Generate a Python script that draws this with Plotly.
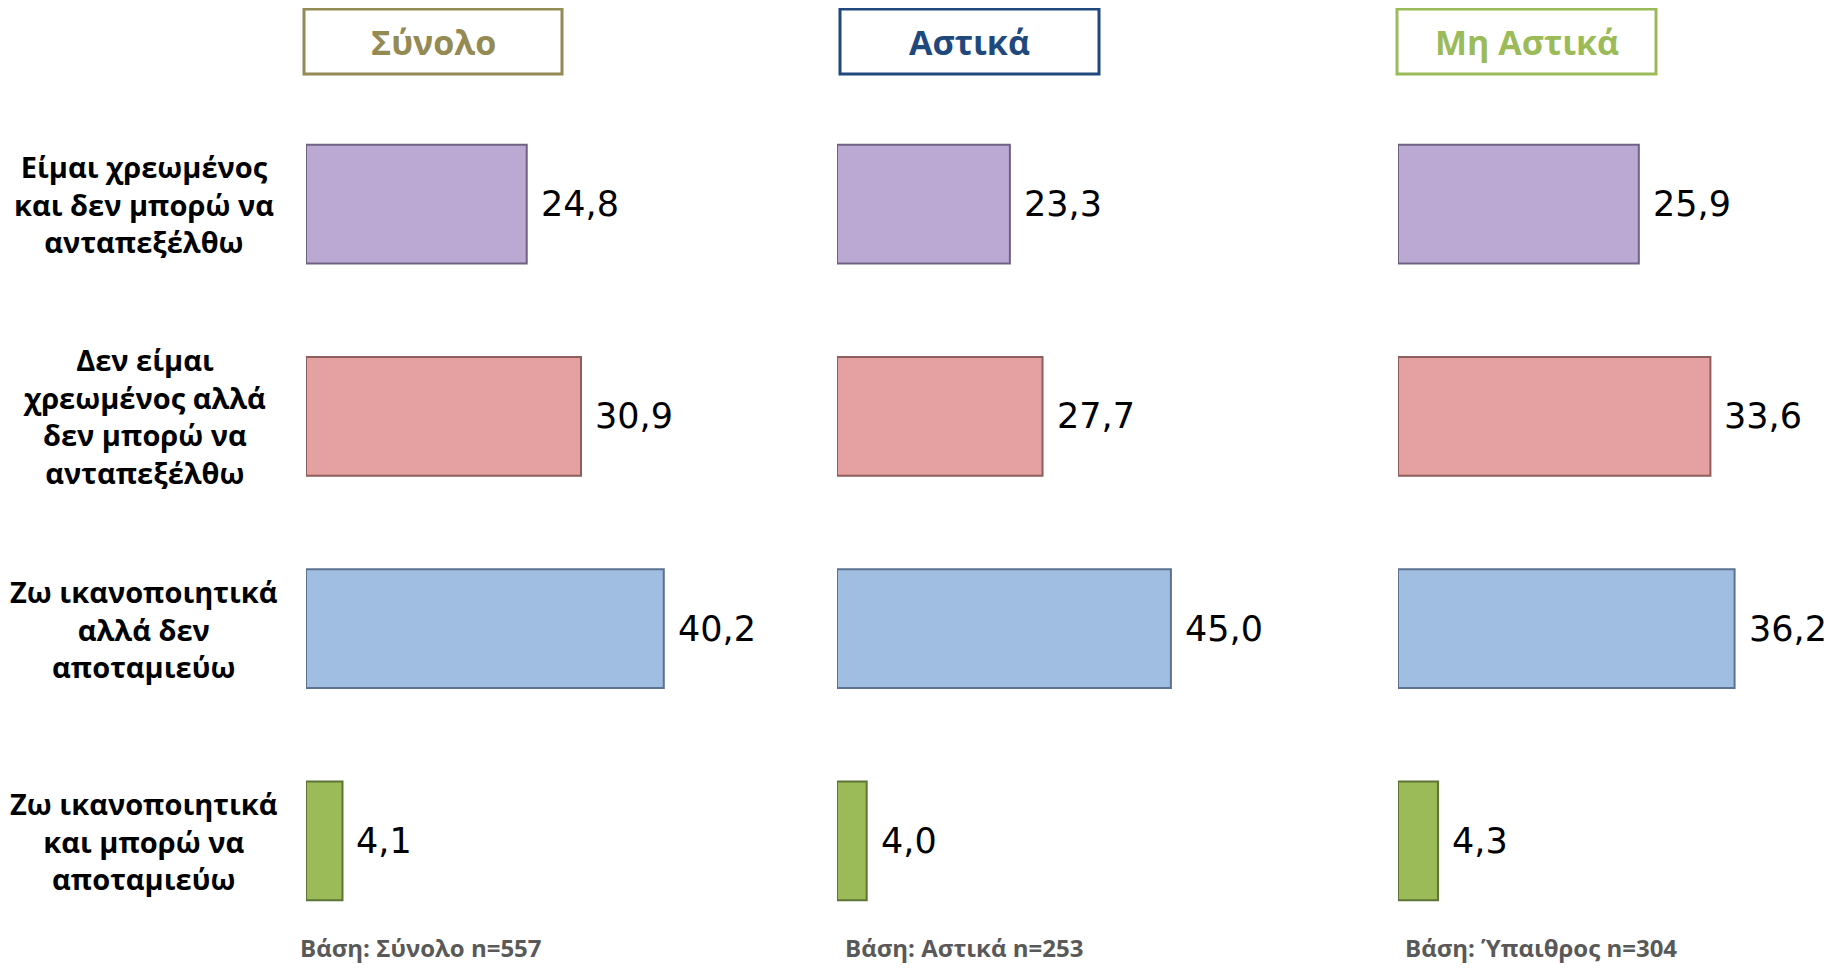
import plotly.graph_objects as go

# data
categories = [
    "Είμαι χρεωμένος<br>και δεν μπορώ να<br>ανταπεξέλθω",
    "Δεν είμαι<br>χρεωμένος αλλά<br>δεν μπορώ να<br>ανταπεξέλθω",
    "Ζω ικανοποιητικά<br>αλλά δεν<br>αποταμιεύω",
    "Ζω ικανοποιητικά<br>και μπορώ να<br>αποταμιεύω",
]
panel_titles = ["Σύνολο", "Αστικά", "Μη Αστικά"]
base_notes = ["Βάση: Σύνολο n=557", "Βάση: Αστικά n=253", "Βάση: Ύπαιθρος n=304"]
total = [24.8, 30.9, 40.2, 4.1]
urban = [23.3, 27.7, 45.0, 4.0]
rural = [25.9, 33.6, 36.2, 4.3]

# the page has an 8px body margin, so the figure is a bit smaller than the window
OFF = 8
W, H = 1845 - 2 * OFF, 974 - 2 * OFF


def px(x):
    return (x - OFF) / W


def py(y):
    return 1 - (y - OFF) / H


bar_colors = ["#BCA9D3", "#E5A0A1", "#A0BDE2", "#9BBB59"]
edge_colors = ["#6E6282", "#8E5E5E", "#5C7290", "#5E7434"]
title_colors = ["#948A54", "#1F497D", "#9BBB59"]

# window-pixel layout of each panel (left edge, right edge, axis max)
panels = [(306, 751, 50), (837, 1208, 50), (1398, 1835, 47)]
header_boxes = [(304, 562), (840, 1099), (1397, 1656)]
note_x = [298, 843, 1403]

ydom = [py(947), py(98)]

fig = go.Figure()
annotations = []
shapes = []
series = [total, urban, rural]
fnt = "Open Sans"

for i, vals in enumerate(series):
    xa = "x" if i == 0 else f"x{i + 1}"
    ya = "y" if i == 0 else f"y{i + 1}"
    fig.add_trace(go.Bar(
        x=vals, y=categories, orientation="h", xaxis=xa, yaxis=ya,
        width=0.56,
        marker=dict(color=bar_colors, line=dict(color=edge_colors, width=2)),
        hoverinfo="skip", showlegend=False,
    ))
    l, r, mx = panels[i]
    fig.update_layout(**{
        ("xaxis" if i == 0 else f"xaxis{i + 1}"): dict(
            domain=[px(l), px(r)], range=[0, mx], visible=False, fixedrange=True),
        ("yaxis" if i == 0 else f"yaxis{i + 1}"): dict(
            domain=ydom, anchor=xa, visible=False, autorange="reversed",
            categoryorder="array", categoryarray=categories),
    })
    for c, v in zip(categories, vals):
        annotations.append(dict(
            x=v, y=c, xref=xa, yref=ya, xanchor="left", yanchor="middle",
            xshift=12, text=f"{v:.1f}".replace(".", ","), showarrow=False,
            font=dict(family="DejaVu Sans", size=35, color="#000000")))
    # header box
    hl, hr = header_boxes[i]
    shapes.append(dict(type="rect", xref="paper", yref="paper",
                       x0=px(hl), x1=px(hr), y0=py(74), y1=py(9),
                       line=dict(color=title_colors[i], width=3), fillcolor="white"))
    annotations.append(dict(
        x=(px(hl) + px(hr)) / 2, y=py(42), xref="paper", yref="paper",
        text=panel_titles[i], showarrow=False, xanchor="center", yanchor="middle",
        font=dict(family=fnt, size=34, color=title_colors[i], weight=700)))
    annotations.append(dict(
        x=px(note_x[i]), y=0, xref="paper", yref="paper",
        text=base_notes[i], showarrow=False, xanchor="left", yanchor="bottom",
        font=dict(family=fnt, size=24, color="#595959", weight=700)))

for c in categories:
    annotations.append(dict(
        x=px(144), y=c, xref="paper", yref="y", text=c, showarrow=False,
        xanchor="center", yanchor="middle", align="center",
        font=dict(family=fnt, size=29, color="#000000", weight=700)))

fig.update_layout(
    width=W, height=H, margin=dict(l=0, r=0, t=0, b=0),
    paper_bgcolor="white", plot_bgcolor="white",
    annotations=annotations, shapes=shapes, bargap=0.44,
)

fig.write_html("out.html")
